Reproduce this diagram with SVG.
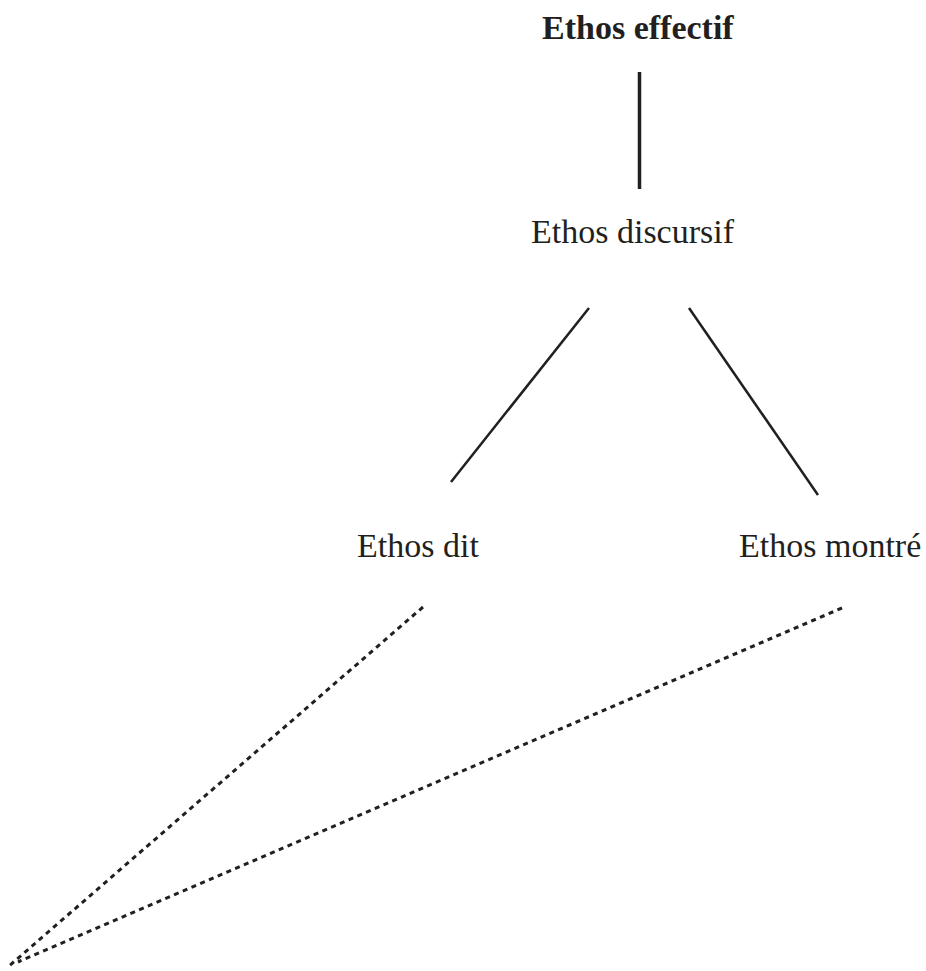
<svg xmlns="http://www.w3.org/2000/svg" width="926" height="971" viewBox="0 0 926 971">
<style>
text{font-size:34px;fill:#231f20}
.b{font-weight:bold}
.solid{stroke:#231f20;stroke-width:2.5;fill:none}
.thick{stroke:#231f20;stroke-width:3.5;fill:none}
.dot{stroke:#231f20;stroke-width:3;fill:none;stroke-dasharray:5 4.5}
</style>
<rect width="926" height="971" fill="#fff"/>
<g id="connectors">
<line class="thick" x1="639.5" y1="72" x2="639.5" y2="189"/>
<line class="solid" x1="589" y1="308" x2="451" y2="482"/>
<line class="solid" x1="689" y1="308" x2="818" y2="495"/>
<line class="dot" x1="423" y1="607" x2="9" y2="966"/>
<line class="dot" x1="842" y1="608" x2="18" y2="962"/>
</g>
<g font-family="'Liberation Serif', 'Times New Roman', serif">
<g id="ethos-effectif"><text class="b" x="542" y="39">Ethos effectif</text></g>
<g id="ethos-discursif"><text x="531" y="243">Ethos discursif</text></g>
<g id="ethos-dit"><text x="357" y="557">Ethos dit</text></g>
<g id="ethos-montre"><text x="739" y="557">Ethos montré</text></g>
</g>
</svg>
